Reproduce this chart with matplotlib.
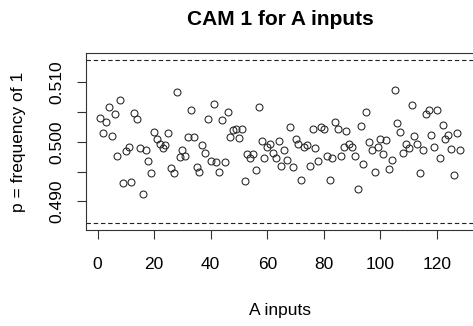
import numpy as np
import matplotlib
matplotlib.use("Agg")
import matplotlib.pyplot as plt

# frequency of 1 for each A input
p_freq = [
    0.5040, 0.5015, 0.5033, 0.5058, 0.5009, 0.5047, 0.4976, 0.5070, 0.4931, 0.4985,
    0.4992, 0.4933, 0.5049, 0.5039, 0.4990, 0.4912, 0.4987, 0.4968, 0.4948, 0.5016,
    0.5005, 0.4997, 0.4989, 0.4994, 0.5014, 0.4956, 0.4948, 0.5083, 0.4974, 0.4987,
    0.4976, 0.5008, 0.5053, 0.5008, 0.4958, 0.4950, 0.4994, 0.4982, 0.5038, 0.4967,
    0.5064, 0.4966, 0.4949, 0.5036, 0.4966, 0.5050, 0.5008, 0.5019, 0.5021, 0.5007,
    0.5022, 0.4935, 0.4980, 0.4973, 0.4980, 0.4952, 0.5059, 0.5001, 0.4972, 0.4992,
    0.4996, 0.4982, 0.4972, 0.5001, 0.4959, 0.4987, 0.4970, 0.5024, 0.4958, 0.5004,
    0.4996, 0.4936, 0.4991, 0.4994, 0.4959, 0.5021, 0.4990, 0.4967, 0.5025, 0.5021,
    0.4977, 0.4936, 0.4972, 0.5034, 0.5021, 0.4977, 0.4991, 0.5018, 0.4997, 0.4992,
    0.4976, 0.4921, 0.5026, 0.4962, 0.5050, 0.4999, 0.4986, 0.4949, 0.4991, 0.5005,
    0.4980, 0.5003, 0.4955, 0.4970, 0.5087, 0.5031, 0.5016, 0.4981, 0.4997, 0.4989,
    0.5061, 0.5010, 0.4997, 0.4948, 0.4987, 0.5047, 0.5053, 0.5012, 0.4991, 0.5053,
    0.4973, 0.5029, 0.5004, 0.5012, 0.4988, 0.4944, 0.5014, 0.4986,
]
a_inputs = np.arange(1, len(p_freq) + 1)

# dashed limits
lower_lim = 0.4863
upper_lim = 0.5138

yticks = [0.490, 0.495, 0.500, 0.505, 0.510]
ytick_labels = ["0.490", "", "0.500", "", "0.510"]
xticks = [0, 20, 40, 60, 80, 100, 120]

plt.rcParams['font.family'] = ['Liberation Sans', 'DejaVu Sans']

fig = plt.figure(figsize=(4.73, 3.26), dpi=100)
ax = fig.add_axes([86/473, 1 - 230/326, 388/473, 177/326])

ax.plot(a_inputs, p_freq, linestyle='none', marker='o', markersize=5,
        markerfacecolor='none', markeredgecolor='#222222', markeredgewidth=0.75)

ax.axhline(upper_lim, color='#222222', linewidth=0.8, linestyle=(0, (4, 2.5)))
ax.axhline(lower_lim, color='#222222', linewidth=0.8, linestyle=(0, (4, 2.5)))

# R style 4% padding
n = len(p_freq)
xr = n - 1
ax.set_xlim(1 - 0.04*xr, n + 0.04*xr)
yr = upper_lim - lower_lim
ax.set_ylim(lower_lim - 0.04*yr, upper_lim + 0.04*yr)

ax.set_xticks(xticks)
ax.set_yticks(yticks)
ax.set_yticklabels(ytick_labels, rotation=90, va='center')
ax.tick_params(direction='out', length=6.5, width=0.8, labelsize=12.5,
               color='#333333')
ax.tick_params(axis='x', pad=13)
ax.tick_params(axis='y', pad=9)

for s in ax.spines.values():
    s.set_color('#333333')
    s.set_linewidth(0.8)

ax.set_title("CAM 1 for A inputs", fontsize=15, fontweight='bold', pad=20)
ax.set_xlabel("A inputs", fontsize=12.5, labelpad=22)
ax.set_ylabel("p = frequency of 1", fontsize=12.5, labelpad=17)

plt.savefig('out.png', dpi=100)
